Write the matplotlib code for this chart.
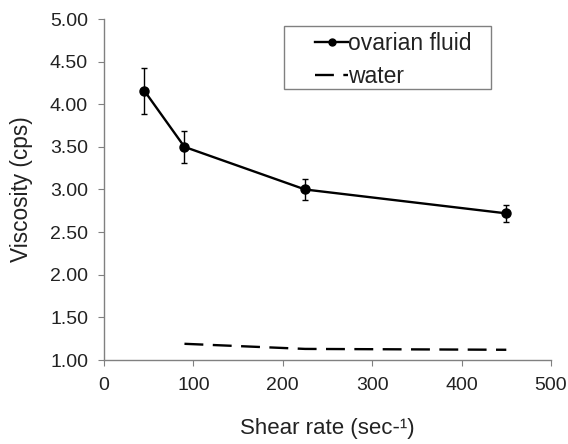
import matplotlib.pyplot as plt
from matplotlib.lines import Line2D
from matplotlib.patches import Rectangle

plt.rcParams['font.family'] = ['Liberation Sans', 'DejaVu Sans']

# Datos de viscosidad frente a la tasa de cizalla
shear_fluid = [45, 90, 225, 450]
visc_fluid = [4.16, 3.50, 3.00, 2.72]
err_fluid = [0.27, 0.19, 0.125, 0.10]

shear_water = [90, 225, 450]
visc_water = [1.19, 1.13, 1.12]

x_ticks = [0, 100, 200, 300, 400, 500]
y_ticks = [1.00, 1.50, 2.00, 2.50, 3.00, 3.50, 4.00, 4.50, 5.00]

W, H = 568, 444
fig = plt.figure(figsize=(W / 100, H / 100), dpi=100)
ax = fig.add_axes([104 / W, 1 - 360 / H, 447 / W, 341 / H])

# Fluido ovárico con barras de error
ax.errorbar(shear_fluid, visc_fluid, yerr=err_fluid, color='black', linewidth=1.7,
            marker='o', markersize=6.5, elinewidth=1.0, capsize=2.5, capthick=1.0)

# Agua, línea discontinua
ax.plot(shear_water, visc_water, color='black', linewidth=1.7, dashes=(8, 4))

ax.set_xlim(0, 500)
ax.set_ylim(1, 5)
ax.set_xticks(x_ticks)
ax.set_yticks(y_ticks)
ax.yaxis.set_major_formatter(plt.FormatStrFormatter('%.2f'))

for side in ['top', 'right']:
    ax.spines[side].set_visible(False)
for side in ['left', 'bottom']:
    ax.spines[side].set_color('#808080')
    ax.spines[side].set_linewidth(1)
ax.tick_params(direction='out', length=4.5, color='#808080', labelsize=14,
               labelcolor='#222222')
ax.tick_params(axis='y', pad=7)
ax.tick_params(axis='x', pad=8)

ax.set_xlabel('Shear rate (sec-¹)', fontsize=16, color='#222222', labelpad=17)
ax.set_ylabel('Viscosity (cps)', fontsize=16.3, color='#222222', labelpad=12)

# Leyenda con marco dibujado aparte
handles = [
    Line2D([], [], color='black', linewidth=1.7, marker='o', markersize=5),
    Line2D([], [], color='black', linewidth=1.7, dashes=(8, 4)),
]
leg = fig.legend(handles, ['ovarian fluid', 'water'], loc='upper left',
                 bbox_to_anchor=(315 / W, 1 - 32 / H), fontsize=16.5,
                 frameon=False, handlelength=1.45, handletextpad=0.0,
                 borderpad=0, labelspacing=0.42, borderaxespad=0)
for t in leg.get_texts():
    t.set_color('#222222')

fig.patches.append(Rectangle((284 / W, 1 - 89 / H), 207 / W, 63 / H,
                             transform=fig.transFigure, fill=False,
                             edgecolor='#808080', linewidth=1))

ax.set_facecolor('white')
fig.savefig('out.png', dpi=100)
